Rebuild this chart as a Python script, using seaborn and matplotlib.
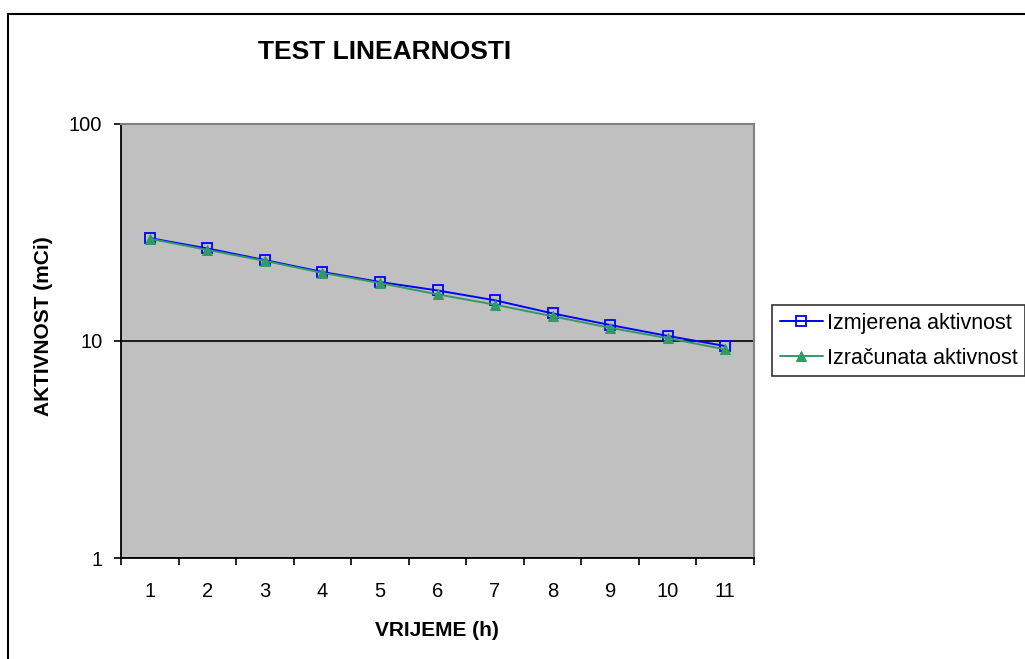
import numpy as np
import pandas as pd
import matplotlib
matplotlib.use('Agg')
import matplotlib.pyplot as plt
from matplotlib.ticker import NullLocator, FixedLocator
from matplotlib.patches import Rectangle
import seaborn as sns

# Podaci ocitani sa slike
sati = [1, 2, 3, 4, 5, 6, 7, 8, 9, 10, 11]
izmjerena = [29.8, 26.7, 23.6, 20.8, 18.7, 17.1, 15.4, 13.4, 11.85, 10.55, 9.48]
izracunata = [29.6, 26.3, 23.4, 20.6, 18.5, 16.4, 14.7, 13.0, 11.5, 10.3, 9.15]
y_ticks = [1, 10, 100]

sns.set_style('white')
plt.rcParams['font.family'] = ['Liberation Sans', 'DejaVu Sans']
plt.rcParams['text.color'] = 'black'
plt.rcParams['xtick.color'] = 'black'
plt.rcParams['ytick.color'] = 'black'
plt.rcParams['axes.labelcolor'] = 'black'

data = pd.DataFrame({'sat': sati, 'izmjerena': izmjerena, 'izracunata': izracunata})

fig = plt.figure(figsize=(10.25, 6.59), dpi=100)
ax = fig.add_axes([121 / 1025, 1 - 558 / 659, (754 - 121) / 1025, (558 - 124) / 659])
ax.set_facecolor('#C0C0C0')

sns.lineplot(data=data, x='sat', y='izmjerena', ax=ax, color='#0000FF', lw=1.4,
             marker='s', markersize=6.5, markerfacecolor='none', markeredgecolor='#0000FF',
             markeredgewidth=1.3, label='Izmjerena aktivnost', zorder=3)
sns.lineplot(data=data, x='sat', y='izracunata', ax=ax, color='#339966', lw=1.4,
             marker='^', markersize=6.5, markerfacecolor='#339966', markeredgecolor='#339966',
             label='Izračunata aktivnost', zorder=4)

ax.set_yscale('log')
ax.set_ylim(1, 100)
ax.yaxis.set_major_locator(FixedLocator(y_ticks))
ax.set_yticklabels([str(t) for t in y_ticks])
ax.yaxis.set_minor_locator(NullLocator())
ax.grid(False)
for t in y_ticks:
    ax.axhline(t, color='black', lw=1.2, zorder=1)

ax.set_xlim(0.5, 11.5)
ax.set_xticks(sati)
ax.set_xticklabels([str(s) for s in sati])
ax.xaxis.set_minor_locator(FixedLocator(np.arange(0.5, 12, 1)))
ax.tick_params(axis='x', which='major', length=0, pad=17, labelsize=14.5)
ax.tick_params(axis='x', which='minor', length=5, width=1.2, direction='out', bottom=True)
ax.tick_params(axis='y', which='major', length=5, width=1.2, direction='out', left=True,
               pad=8.5, labelsize=14.5)

ax.set_xlabel('')
ax.set_ylabel('')
for s in ['left', 'bottom']:
    ax.spines[s].set_color('black')
    ax.spines[s].set_linewidth(1.3)
for s in ['top', 'right']:
    ax.spines[s].set_color('#808080')
    ax.spines[s].set_linewidth(1.5)

leg = ax.legend(loc='upper left', bbox_to_anchor=(772 / 1025, 1 - 305 / 659),
                bbox_transform=fig.transFigure, frameon=True, fancybox=False,
                edgecolor='black', fontsize=15.5, handlelength=2.0, handletextpad=0.2,
                borderpad=0.35, labelspacing=0.65, borderaxespad=0)
leg.get_frame().set_linewidth(1.2)

fig.text(385 / 1025, 1 - 52 / 659, 'TEST LINEARNOSTI', ha='center', va='center',
         fontsize=19, fontweight='bold')
fig.text(437 / 1025, 1 - 630 / 659, 'VRIJEME (h)', ha='center', va='center',
         fontsize=15, fontweight='bold')
fig.text(44 / 1025, 1 - 326 / 659, 'AKTIVNOST (mCi)', ha='center', va='center',
         rotation=90, fontsize=15, fontweight='bold')

# okvir grafikona
fig.add_artist(Rectangle((8 / 1025, -0.1), 1.2, 1.1 - 14 / 659, transform=fig.transFigure,
                         fill=False, edgecolor='black', lw=1.5))

fig.savefig('out.png', dpi=100)
